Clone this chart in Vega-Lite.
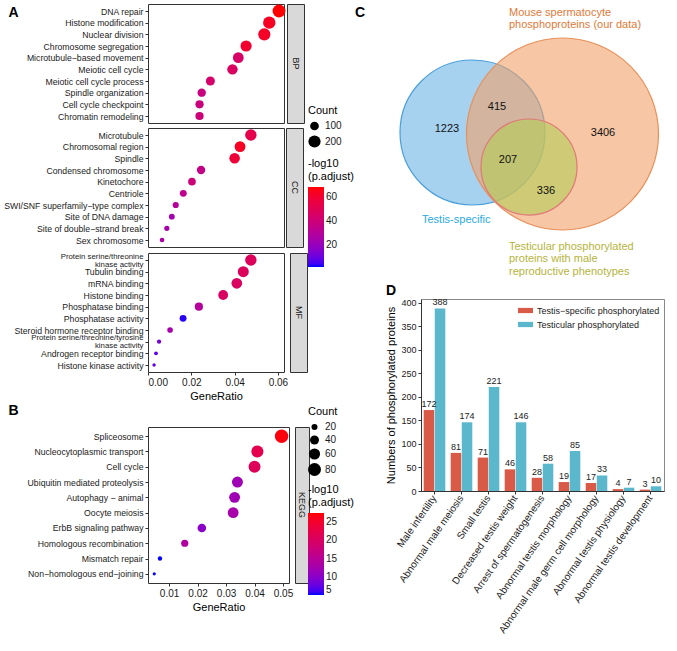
{
  "$schema": "https://vega.github.io/schema/vega-lite/v6.json",
  "background": "white",
  "padding": {"left": 3, "top": 3, "right": 3, "bottom": 0},
  "config": {
    "font": "Liberation Sans",
    "view": {"stroke": "#333333", "strokeWidth": 1},
    "axis": {"grid": false, "labelColor": "#1a1a1a", "titleColor": "#000000", "tickColor": "#333333", "domainColor": "#333333", "titleFontWeight": "normal", "labelFontSize": 9, "titleFontSize": 11},
    "legend": {"titleFontWeight": "normal", "titleFontSize": 11, "labelFontSize": 10, "titleColor": "#000000", "labelColor": "#1a1a1a"},
    "title": {"fontSize": 14, "fontWeight": "bold", "anchor": "start"}
  },
  "datasets": {
    "go": [
      {"ont": "BP", "term": "DNA repair", "ratio": 0.0605, "count": 224, "padj": 68},
      {"ont": "BP", "term": "Histone modification", "ratio": 0.056, "count": 207, "padj": 63},
      {"ont": "BP", "term": "Nuclear division", "ratio": 0.0537, "count": 199, "padj": 62},
      {"ont": "BP", "term": "Chromosome segregation", "ratio": 0.0453, "count": 168, "padj": 60},
      {"ont": "BP", "term": "Microtubule−based movement", "ratio": 0.0417, "count": 154, "padj": 45},
      {"ont": "BP", "term": "Meiotic cell cycle", "ratio": 0.039, "count": 144, "padj": 47},
      {"ont": "BP", "term": "Meiotic cell cycle process", "ratio": 0.0288, "count": 107, "padj": 44},
      {"ont": "BP", "term": "Spindle organization", "ratio": 0.0248, "count": 92, "padj": 38},
      {"ont": "BP", "term": "Cell cycle checkpoint", "ratio": 0.0238, "count": 88, "padj": 38},
      {"ont": "BP", "term": "Chromatin remodeling", "ratio": 0.0238, "count": 88, "padj": 40},
      {"ont": "CC", "term": "Microtubule", "ratio": 0.0475, "count": 176, "padj": 52},
      {"ont": "CC", "term": "Chromosomal region", "ratio": 0.0425, "count": 157, "padj": 63},
      {"ont": "CC", "term": "Spindle", "ratio": 0.04, "count": 148, "padj": 58},
      {"ont": "CC", "term": "Condensed chromosome", "ratio": 0.0245, "count": 91, "padj": 36},
      {"ont": "CC", "term": "Kinetochore", "ratio": 0.0203, "count": 75, "padj": 40},
      {"ont": "CC", "term": "Centriole", "ratio": 0.0163, "count": 60, "padj": 34},
      {"ont": "CC", "term": "SWI/SNF superfamily−type complex", "ratio": 0.0128, "count": 47, "padj": 30},
      {"ont": "CC", "term": "Site of DNA damage", "ratio": 0.011, "count": 41, "padj": 24},
      {"ont": "CC", "term": "Site of double−strand break", "ratio": 0.0087, "count": 32, "padj": 25},
      {"ont": "CC", "term": "Sex chromosome", "ratio": 0.0065, "count": 24, "padj": 28},
      {"ont": "MF", "term": "Protein serine/threonine\nkinase activity", "ratio": 0.0475, "count": 176, "padj": 48},
      {"ont": "MF", "term": "Tubulin binding", "ratio": 0.044, "count": 163, "padj": 48},
      {"ont": "MF", "term": "mRNA binding", "ratio": 0.041, "count": 152, "padj": 47},
      {"ont": "MF", "term": "Histone binding", "ratio": 0.0347, "count": 128, "padj": 47},
      {"ont": "MF", "term": "Phosphatase binding", "ratio": 0.0235, "count": 87, "padj": 30},
      {"ont": "MF", "term": "Phosphatase activity", "ratio": 0.0162, "count": 60, "padj": 3},
      {"ont": "MF", "term": "Steroid hormone receptor binding", "ratio": 0.0102, "count": 38, "padj": 25},
      {"ont": "MF", "term": "Protein serine/threonine/tyrosine\nkinase activity", "ratio": 0.0051, "count": 19, "padj": 12},
      {"ont": "MF", "term": "Androgen receptor binding", "ratio": 0.0037, "count": 14, "padj": 8},
      {"ont": "MF", "term": "Histone kinase activity", "ratio": 0.0028, "count": 10, "padj": 8}
    ],
    "kegg": [
      {"term": "Spliceosome", "ratio": 0.0495, "count": 85, "padj": 27},
      {"term": "Nucleocytoplasmic transport", "ratio": 0.041, "count": 70, "padj": 22},
      {"term": "Cell cycle", "ratio": 0.04, "count": 68, "padj": 21},
      {"term": "Ubiquitin mediated proteolysis", "ratio": 0.034, "count": 58, "padj": 12},
      {"term": "Autophagy − animal", "ratio": 0.033, "count": 57, "padj": 12},
      {"term": "Oocyte meiosis", "ratio": 0.0325, "count": 56, "padj": 13},
      {"term": "ErbB signaling pathway", "ratio": 0.0215, "count": 37, "padj": 10},
      {"term": "Homologous recombination", "ratio": 0.0155, "count": 27, "padj": 14},
      {"term": "Mismatch repair", "ratio": 0.0068, "count": 12, "padj": 5},
      {"term": "Non−homologous end−joining", "ratio": 0.0048, "count": 8, "padj": 5}
    ],
    "venn": [
      {"set": "Testis-specific", "cx": 44.62, "cy": 51.56, "r": 25.17},
      {"set": "Mouse spermatocyte phosphoproteins", "cx": 75.87, "cy": 51.04, "r": 33.33},
      {"set": "Testicular phenotypes", "cx": 64.24, "cy": 39.58, "r": 16.67}
    ],
    "vennCounts": [
      {"n": 1223, "x": 35.76, "y": 52.77},
      {"n": 415, "x": 53.13, "y": 60.41},
      {"n": 3406, "x": 89.93, "y": 51.39},
      {"n": 207, "x": 56.94, "y": 42.01},
      {"n": 336, "x": 70.14, "y": 31.25}
    ],
    "vennSets": [
      {"set": "Mouse spermatocyte phosphoproteins", "text": "Mouse spermatocyte\nphosphoproteins (our data)", "x": 57.29, "y": 95.14},
      {"set": "Testis-specific", "text": "Testis-specific", "x": 27.08, "y": 23.26},
      {"set": "Testicular phenotypes", "text": "Testicular phosphorylated\nproteins with male\nreproductive phenotypes", "x": 57.29, "y": 13.89}
    ],
    "pheno": [
      {"phenotype": "Male infertility", "series": "Testis−specific phosphorylated", "n": 172, "label": 172},
      {"phenotype": "Male infertility", "series": "Testicular phosphorylated", "n": 388, "label": 388},
      {"phenotype": "Abnormal male meiosis", "series": "Testis−specific phosphorylated", "n": 81, "label": 81},
      {"phenotype": "Abnormal male meiosis", "series": "Testicular phosphorylated", "n": 146, "label": 174},
      {"phenotype": "Small testis", "series": "Testis−specific phosphorylated", "n": 71, "label": 71},
      {"phenotype": "Small testis", "series": "Testicular phosphorylated", "n": 221, "label": 221},
      {"phenotype": "Decreased testis weight", "series": "Testis−specific phosphorylated", "n": 46, "label": 46},
      {"phenotype": "Decreased testis weight", "series": "Testicular phosphorylated", "n": 146, "label": 146},
      {"phenotype": "Arrest of spermatogenesis", "series": "Testis−specific phosphorylated", "n": 28, "label": 28},
      {"phenotype": "Arrest of spermatogenesis", "series": "Testicular phosphorylated", "n": 58, "label": 58},
      {"phenotype": "Abnormal testis morphology", "series": "Testis−specific phosphorylated", "n": 19, "label": 19},
      {"phenotype": "Abnormal testis morphology", "series": "Testicular phosphorylated", "n": 85, "label": 85},
      {"phenotype": "Abnormal male germ cell morphology", "series": "Testis−specific phosphorylated", "n": 17, "label": 17},
      {"phenotype": "Abnormal male germ cell morphology", "series": "Testicular phosphorylated", "n": 33, "label": 33},
      {"phenotype": "Abnormal testis physiology", "series": "Testis−specific phosphorylated", "n": 4, "label": 4},
      {"phenotype": "Abnormal testis physiology", "series": "Testicular phosphorylated", "n": 7, "label": 7},
      {"phenotype": "Abnormal testis development", "series": "Testis−specific phosphorylated", "n": 3, "label": 3},
      {"phenotype": "Abnormal testis development", "series": "Testicular phosphorylated", "n": 10, "label": 10}
    ]
  },
  "resolve": {"scale": {"color": "independent", "size": "independent", "fill": "independent", "stroke": "independent"}},
  "spacing": 0,
  "hconcat": [
    {
      "spacing": 0,
      "resolve": {"scale": {"color": "independent", "size": "independent"}},
      "vconcat": [
        {
          "spacing": 3,
          "vconcat": [
            {
              "spacing": 0,
              "hconcat": [
                {
                  "width": 136, "height": 119,
                  "data": {"name": "go"},
                  "transform": [{"filter": "datum.ont === 'BP'"}],
                  "mark": {"type": "circle", "opacity": 1},
                  "encoding": {
                    "x": {"field": "ratio", "type": "quantitative", "scale": {"domain": [0, 0.0628], "nice": false, "zero": false}, "axis": null},
                    "y": {"field": "term", "type": "nominal", "sort": null, "scale": {"type": "point", "padding": 0.6},
                      "axis": {"title": "A", "titleAngle": 0, "titleX": -140, "titleY": 8, "titleAlign": "left", "titleBaseline": "middle", "titleFontSize": 14, "titleFontWeight": "bold", "minExtent": 142, "maxExtent": 142, "domain": false, "tickSize": 3, "labelPadding": 2, "labelFontSize": 8.7, "labelLimit": 142}},
                    "size": {"field": "count", "type": "quantitative", "scale": {"domain": [8, 230], "range": [10, 170], "zero": false},
                      "legend": {"title": "Count", "values": [100, 200], "orient": "none", "legendX": 160, "legendY": 101, "direction": "vertical", "symbolFillColor": "#000000", "symbolStrokeColor": "#000000", "symbolStrokeWidth": 0, "rowPadding": 4}},
                    "color": {"field": "padj", "type": "quantitative", "scale": {"domain": [2, 68], "range": ["#0000ff", "#ff0000"], "interpolate": "lab"},
                      "legend": {"title": ["-log10", "(p.adjust)"], "values": [20, 40, 60], "orient": "none", "legendX": 160, "legendY": 154, "direction": "vertical", "gradientLength": 80, "gradientThickness": 16}}
                  }
                },
                {
                  "width": 17, "height": 119,
                  "data": {"values": [{"facet": "BP"}]},
                  "view": {"fill": "#d9d9d9", "stroke": "#333333"},
                  "mark": {"type": "text", "angle": 90, "fontSize": 9, "color": "#1a1a1a"},
                  "encoding": {"text": {"field": "facet"}}
                }
              ]
            },
            {
              "spacing": 0,
              "hconcat": [
                {
                  "width": 136, "height": 119,
                  "data": {"name": "go"},
                  "transform": [{"filter": "datum.ont === 'CC'"}],
                  "mark": {"type": "circle", "opacity": 1},
                  "encoding": {
                    "x": {"field": "ratio", "type": "quantitative", "scale": {"domain": [0, 0.0628], "nice": false, "zero": false}, "axis": null},
                    "y": {"field": "term", "type": "nominal", "sort": null, "scale": {"type": "point", "padding": 0.6},
                      "axis": {"title": null, "minExtent": 142, "maxExtent": 142, "domain": false, "tickSize": 3, "labelPadding": 2, "labelFontSize": 8.7, "labelLimit": 142}},
                    "size": {"field": "count", "type": "quantitative", "scale": {"domain": [8, 230], "range": [10, 170], "zero": false},
                      "legend": {"title": "Count", "values": [100, 200], "orient": "none", "legendX": 160, "legendY": 101, "direction": "vertical", "symbolFillColor": "#000000", "symbolStrokeColor": "#000000", "symbolStrokeWidth": 0, "rowPadding": 4}},
                    "color": {"field": "padj", "type": "quantitative", "scale": {"domain": [2, 68], "range": ["#0000ff", "#ff0000"], "interpolate": "lab"},
                      "legend": {"title": ["-log10", "(p.adjust)"], "values": [20, 40, 60], "orient": "none", "legendX": 160, "legendY": 154, "direction": "vertical", "gradientLength": 80, "gradientThickness": 16}}
                  }
                },
                {
                  "width": 17, "height": 119,
                  "data": {"values": [{"facet": "CC"}]},
                  "view": {"fill": "#d9d9d9", "stroke": "#333333"},
                  "mark": {"type": "text", "angle": 90, "fontSize": 9, "color": "#1a1a1a"},
                  "encoding": {"text": {"field": "facet"}}
                }
              ]
            },
            {
              "spacing": 0,
              "hconcat": [
                {
                  "width": 136, "height": 119,
                  "data": {"name": "go"},
                  "transform": [{"filter": "datum.ont === 'MF'"}],
                  "mark": {"type": "circle", "opacity": 1},
                  "encoding": {
                    "x": {"field": "ratio", "type": "quantitative", "scale": {"domain": [0, 0.0628], "nice": false, "zero": false},
                      "axis": {"title": "GeneRatio", "values": [0, 0.02, 0.04, 0.06], "format": ".2f", "labelFontSize": 10, "titleFontSize": 11, "domain": false, "tickSize": 3, "labelPadding": 2, "titlePadding": 3}},
                    "y": {"field": "term", "type": "nominal", "sort": null, "scale": {"type": "point", "padding": 0.6},
                      "axis": {"title": null, "minExtent": 142, "maxExtent": 142, "domain": false, "tickSize": 3, "labelPadding": 2, "labelLimit": 142, "labelExpr": "split(datum.label, '\\n')", "labelLineHeight": 8,
                        "labelFontSize": {"condition": {"test": "indexof(datum.value, '\\n') >= 0", "value": 7.8}, "value": 8.7},
                        "labelOffset": {"condition": {"test": "indexof(datum.value, '\\n') >= 0", "value": -4}, "value": 0}}},
                    "size": {"field": "count", "type": "quantitative", "scale": {"domain": [8, 230], "range": [10, 170], "zero": false},
                      "legend": {"title": "Count", "values": [100, 200], "orient": "none", "legendX": 160, "legendY": 101, "direction": "vertical", "symbolFillColor": "#000000", "symbolStrokeColor": "#000000", "symbolStrokeWidth": 0, "rowPadding": 4}},
                    "color": {"field": "padj", "type": "quantitative", "scale": {"domain": [2, 68], "range": ["#0000ff", "#ff0000"], "interpolate": "lab"},
                      "legend": {"title": ["-log10", "(p.adjust)"], "values": [20, 40, 60], "orient": "none", "legendX": 160, "legendY": 154, "direction": "vertical", "gradientLength": 80, "gradientThickness": 16}}
                  }
                },
                {
                  "width": 17, "height": 119,
                  "data": {"values": [{"facet": "MF"}]},
                  "view": {"fill": "#d9d9d9", "stroke": "#333333"},
                  "mark": {"type": "text", "angle": 90, "fontSize": 9, "color": "#1a1a1a"},
                  "encoding": {"text": {"field": "facet"}}
                }
              ]
            }
          ]
        },
        {
          "spacing": 0,
          "hconcat": [
            {
              "width": 141, "height": 156,
              "data": {"name": "kegg"},
              "mark": {"type": "circle", "opacity": 1},
              "encoding": {
                "x": {"field": "ratio", "type": "quantitative", "scale": {"domain": [0.0026, 0.0521], "nice": false, "zero": false},
                  "axis": {"title": "GeneRatio", "values": [0.01, 0.02, 0.03, 0.04, 0.05], "format": ".2f", "labelFontSize": 10, "titleFontSize": 11, "domain": false, "tickSize": 3, "labelPadding": 2, "titlePadding": 3}},
                "y": {"field": "term", "type": "nominal", "sort": null, "scale": {"type": "point", "padding": 0.6},
                  "axis": {"title": "B", "titleAngle": 0, "titleX": -140, "titleY": -17, "titleAlign": "left", "titleBaseline": "middle", "titleFontSize": 14, "titleFontWeight": "bold", "minExtent": 142, "maxExtent": 142, "domain": false, "tickSize": 3, "labelPadding": 2, "labelFontSize": 8.7, "labelLimit": 142}},
                "size": {"field": "count", "type": "quantitative", "scale": {"domain": [8, 85], "range": [10, 180], "zero": false},
                  "legend": {"title": "Count", "values": [20, 40, 60, 80], "orient": "none", "legendX": 160, "legendY": -21, "direction": "vertical", "symbolFillColor": "#000000", "symbolStrokeColor": "#000000", "symbolStrokeWidth": 0, "rowPadding": 3}},
                "color": {"field": "padj", "type": "quantitative", "scale": {"domain": [5, 27.5], "range": ["#0000ff", "#ff0000"], "interpolate": "lab"},
                  "legend": {"title": ["-log10", "(p.adjust)"], "values": [5, 10, 15, 20, 25], "orient": "none", "legendX": 160, "legendY": 57, "direction": "vertical", "gradientLength": 82, "gradientThickness": 16}}
              }
            },
            {
              "width": 14, "height": 156,
              "data": {"values": [{"facet": "KEGG"}]},
              "view": {"fill": "#d9d9d9", "stroke": "#333333"},
              "mark": {"type": "text", "angle": 90, "fontSize": 9, "color": "#1a1a1a"},
              "encoding": {"text": {"field": "facet"}}
            }
          ]
        }
      ]
    },
    {
      "spacing": 2,
      "resolve": {"scale": {"color": "independent", "fill": "independent", "stroke": "independent"}},
      "vconcat": [
        {
          "width": 247, "height": 277,
          "view": {"stroke": null},
          "layer": [
            {
              "data": {"name": "venn"},
              "mark": {"type": "circle", "fillOpacity": 0.6, "strokeOpacity": 1, "strokeWidth": 1.2},
              "encoding": {
                "x": {"field": "cx", "type": "quantitative", "scale": {"domain": [26.74, 112.5], "nice": false, "zero": false}, "axis": null},
                "y": {"field": "cy", "type": "quantitative", "scale": {"domain": [0, 96.18], "nice": false, "zero": false}, "axis": null},
                "size": {"field": "r", "type": "quantitative", "scale": {"type": "pow", "exponent": 2, "domain": [0, 40], "range": [0, 53084]}, "legend": null},
                "fill": {"field": "set", "type": "nominal", "scale": {"domain": ["Testis-specific", "Mouse spermatocyte phosphoproteins", "Testicular phenotypes"], "range": ["#6bb4e6", "#f0a069", "#b4cd55"]}, "legend": null},
                "stroke": {"field": "set", "type": "nominal", "scale": {"domain": ["Testis-specific", "Mouse spermatocyte phosphoproteins", "Testicular phenotypes"], "range": ["#4a9fd9", "#e8905a", "#e07878"]}, "legend": null}
              }
            },
            {
              "data": {"name": "vennCounts"},
              "mark": {"type": "text", "fontSize": 11, "color": "#111111"},
              "encoding": {
                "x": {"field": "x", "type": "quantitative", "scale": {"domain": [26.74, 112.5], "nice": false, "zero": false}, "axis": null},
                "y": {"field": "y", "type": "quantitative", "scale": {"domain": [0, 96.18], "nice": false, "zero": false}, "axis": null},
                "text": {"field": "n"}
              }
            },
            {
              "data": {"name": "vennSets"},
              "mark": {"type": "text", "fontSize": 11, "align": "left", "baseline": "top", "lineBreak": "\n", "lineHeight": 12.5},
              "encoding": {
                "x": {"field": "x", "type": "quantitative", "scale": {"domain": [26.74, 112.5], "nice": false, "zero": false}, "axis": null},
                "y": {"field": "y", "type": "quantitative", "scale": {"domain": [0, 96.18], "nice": false, "zero": false}, "axis": null},
                "text": {"field": "text"},
                "color": {"field": "set", "type": "nominal", "scale": {"domain": ["Testis-specific", "Mouse spermatocyte phosphoproteins", "Testicular phenotypes"], "range": ["#2aaae2", "#e07a38", "#b5b43c"]}, "legend": null}
              }
            },
            {
              "data": {"values": [{"panel": "C", "x": 3.82, "y": 93.05}]},
              "mark": {"type": "text", "fontSize": 14, "fontWeight": "bold", "align": "left", "color": "#000000"},
              "encoding": {
                "x": {"field": "x", "type": "quantitative", "scale": {"domain": [26.74, 112.5], "nice": false, "zero": false}, "axis": null},
                "y": {"field": "y", "type": "quantitative", "scale": {"domain": [0, 96.18], "nice": false, "zero": false}, "axis": null},
                "text": {"field": "panel"}
              }
            }
          ]
        },
        {
          "title": {"text": "D", "anchor": "start", "frame": "bounds", "fontSize": 14, "fontWeight": "bold", "offset": 0},
          "width": 243, "height": 192,
          "view": {"stroke": "#888888"},
          "data": {"name": "pheno"},
          "encoding": {
            "x": {"field": "phenotype", "type": "nominal", "sort": null, "scale": {"paddingInner": 0.2, "paddingOuter": 0.1},
              "axis": {"title": null, "labelAngle": -55, "labelFontSize": 10, "tickSize": 3, "labelLimit": 300, "domainColor": "#333333"}},
            "xOffset": {"field": "series", "type": "nominal", "sort": ["Testis−specific phosphorylated", "Testicular phosphorylated"], "scale": {"paddingInner": 0.05}},
            "y": {"field": "n", "type": "quantitative", "scale": {"domain": [0, 408], "nice": false},
              "axis": {"title": "Numbers of phosphorylated proteins", "values": [0, 50, 100, 150, 200, 250, 300, 350, 400], "labelFontSize": 9, "titleFontSize": 11, "tickSize": 3, "titlePadding": 4}}
          },
          "layer": [
            {
              "mark": {"type": "bar"},
              "encoding": {
                "color": {"field": "series", "type": "nominal", "sort": ["Testis−specific phosphorylated", "Testicular phosphorylated"],
                  "scale": {"domain": ["Testis−specific phosphorylated", "Testicular phosphorylated"], "range": ["#d85a47", "#5bb7cc"]},
                  "legend": {"title": null, "orient": "top-right", "offset": 4, "symbolType": "M-1,-0.35H1V0.35H-1Z", "symbolSize": 225, "symbolStrokeWidth": 0, "labelFontSize": 9, "rowPadding": 1}}
              }
            },
            {
              "mark": {"type": "text", "baseline": "bottom", "dy": -1, "fontSize": 9, "color": "#222222"},
              "encoding": {"text": {"field": "label"}}
            }
          ]
        }
      ]
    }
  ]
}
